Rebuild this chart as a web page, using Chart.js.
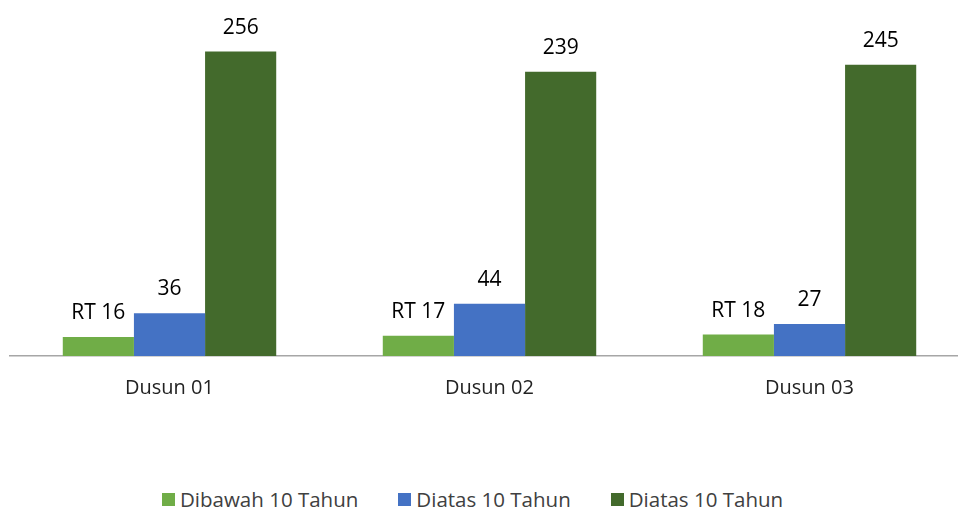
<!DOCTYPE html>
<html>
<head>
<meta charset="utf-8">
<script src="https://cdn.jsdelivr.net/npm/chart.js@4.4.0/dist/chart.umd.min.js"></script>
<style>
  html, body { margin: 0; padding: 0; background: #fff; overflow: hidden; }
  #wrap { position: relative; width: 958px; height: 508px; overflow: hidden; }
  #box { position: absolute; left: 0; top: 0; width: 980px; height: 420px; }
  #legend { position: absolute; left: 162px; top: 485px; display: flex; align-items: center;
            font-family: "Open Sans", sans-serif; font-size: 20.5px; color: #404040; white-space: nowrap; }
  #legend .item { display: flex; align-items: center; margin-right: 40px; }
  #legend .sw { width: 13px; height: 13px; margin-right: 5px; }
</style>
</head>
<body>
<div id="wrap">
  <div id="box"><canvas id="chart" width="980" height="420"></canvas></div>
  <div id="legend"></div>
</div>
<script>
// data
const categories = ['Dusun 01', 'Dusun 02', 'Dusun 03'];
const seriesNames = ['Dibawah 10 Tahun', 'Diatas 10 Tahun', 'Diatas 10 Tahun'];
const dibawah10 = [16, 17, 18];
const diatas10 = [36, 44, 27];
const diatas10b = [256, 239, 245];
const labelPrefix = ['RT ', '', ''];
const colors = ['#70AD47', '#4472C4', '#436A2C'];
const yMax = 280;

const seriesData = [dibawah10, diatas10, diatas10b];

// value labels above bars
const barLabels = {
  id: 'barLabels',
  afterDatasetsDraw(chart) {
    const ctx = chart.ctx;
    ctx.save();
    ctx.font = '21px "Open Sans", sans-serif';
    ctx.fillStyle = '#000';
    ctx.textAlign = 'center';
    ctx.textBaseline = 'alphabetic';
    chart.data.datasets.forEach(function(ds, i) {
      chart.getDatasetMeta(i).data.forEach(function(bar, j) {
        ctx.fillText(labelPrefix[i] + ds.data[j], bar.x, bar.y - 18);
      });
    });
    ctx.restore();
  }
};

const chart = new Chart(document.getElementById('chart').getContext('2d'), {
  type: 'bar',
  data: {
    labels: categories,
    datasets: seriesData.map(function(d, i) {
      return {
        label: seriesNames[i],
        data: d,
        backgroundColor: colors[i],
        borderWidth: 0,
        categoryPercentage: 0.667,
        barPercentage: 1.0
      };
    })
  },
  options: {
    responsive: false,
    animation: false,
    layout: { padding: { left: 9.5, right: 10.5, top: 23, bottom: 0 } },
    plugins: { legend: { display: false }, tooltip: { enabled: false } },
    scales: {
      x: {
        grid: { display: false, drawTicks: false },
        border: { display: true, color: '#a6a6a6', width: 1.5 },
        ticks: { color: '#222', padding: 20, font: { family: '"Open Sans", sans-serif', size: 20 } }
      },
      y: { display: false, min: 0, max: yMax }
    }
  },
  plugins: [barLabels]
});

// legend
const legend = document.getElementById('legend');
seriesNames.forEach(function(name, i) {
  const item = document.createElement('div');
  item.className = 'item';
  item.innerHTML = '<span class="sw" style="background:' + colors[i] + '"></span><span>' + name + '</span>';
  legend.appendChild(item);
});
</script>
</body>
</html>
